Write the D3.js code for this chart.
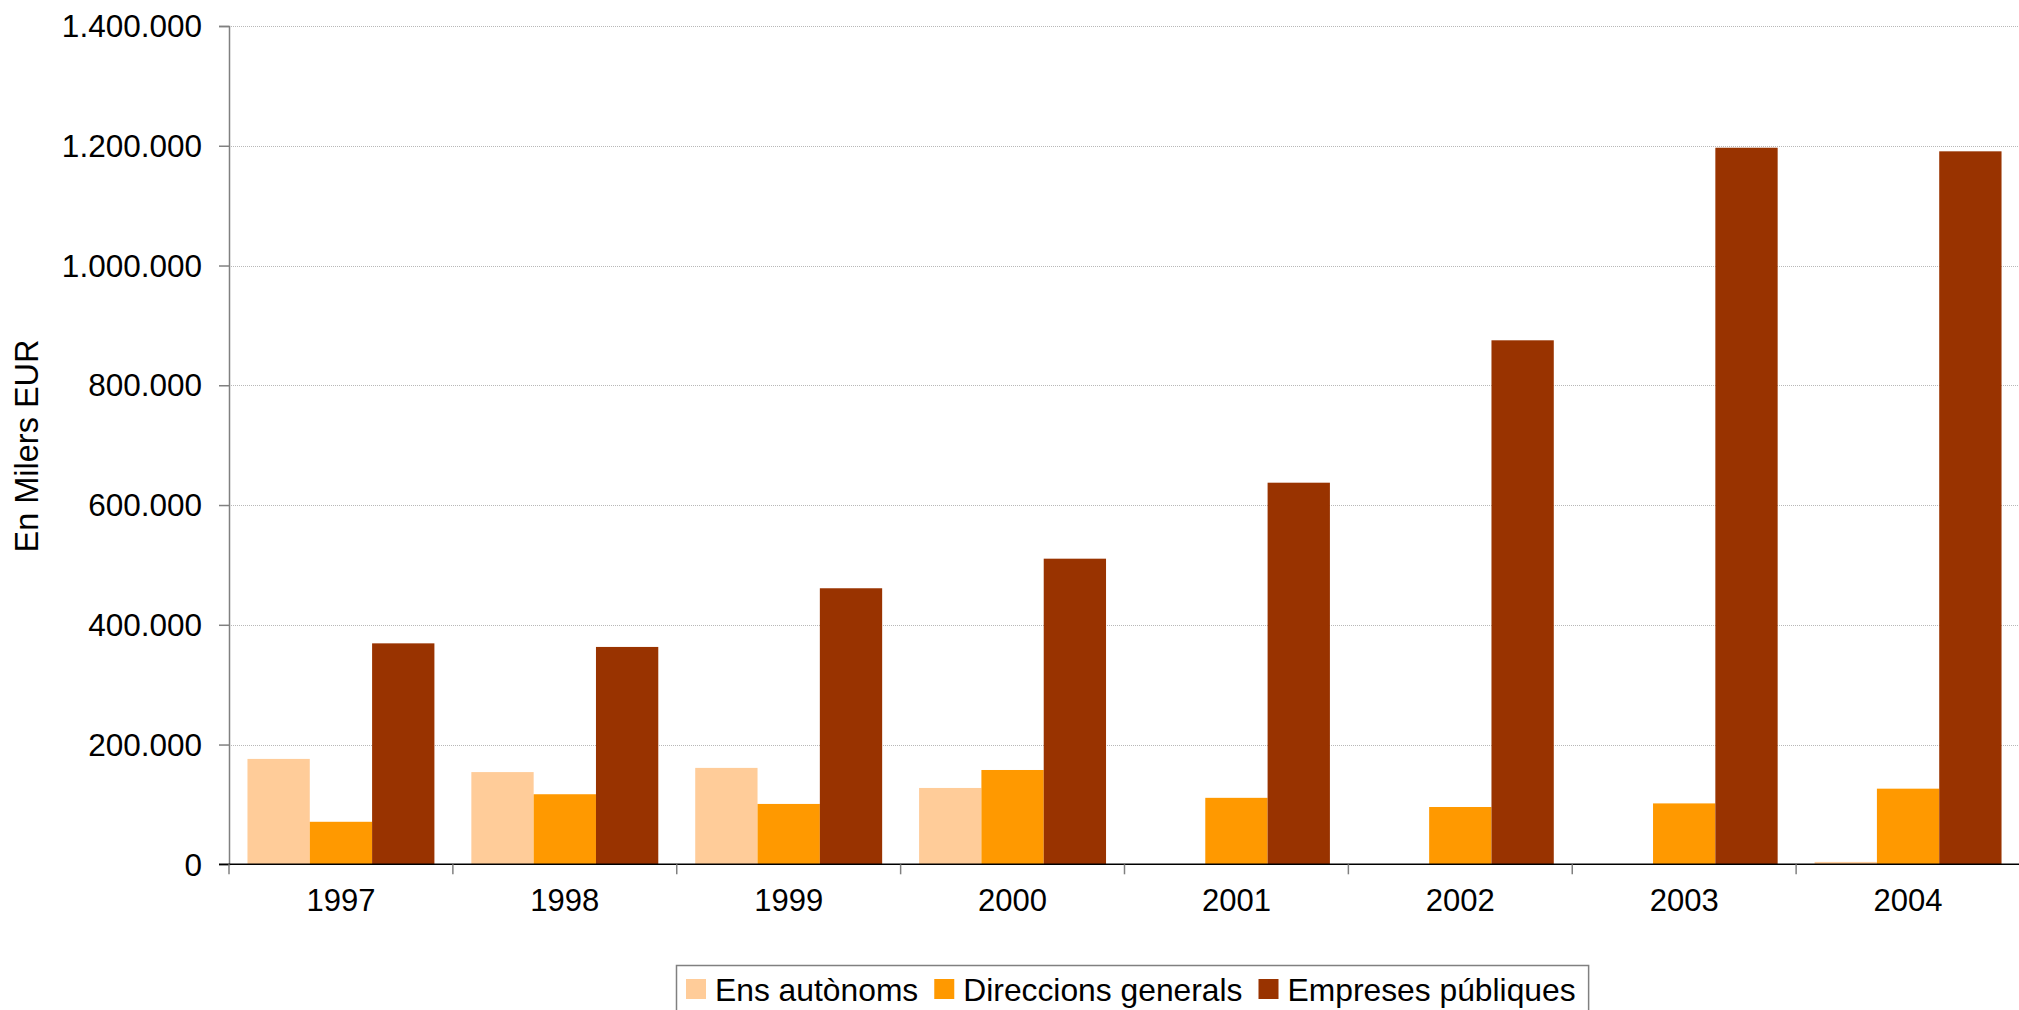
<!DOCTYPE html>
<html>
<head>
<meta charset="utf-8">
<script src="https://cdn.jsdelivr.net/npm/d3@7"></script>
<style>
  html, body { margin: 0; padding: 0; background: #fff; }
  svg { display: block; }
  text { font-family: "Liberation Sans", Arial, sans-serif; fill: #000; }
</style>
</head>
<body>
<script>
const years = ["1997", "1998", "1999", "2000", "2001", "2002", "2003", "2004"];
const seriesNames = ["Ens autònoms", "Direccions generals", "Empreses públiques"];
const ensAutonoms = [176000, 154000, 161000, 127500, 0, 0, 0, 4000];
const direccionsGenerals = [71000, 117000, 100800, 157500, 111000, 95700, 101700, 126300];
const empresesPubliques = [369000, 363000, 461000, 510400, 637300, 875100, 1196700, 1190700];
const yTicks = [0, 200000, 400000, 600000, 800000, 1000000, 1200000, 1400000];
const colors = ["#FFCC99", "#FF9900", "#993300"];
const yTitle = "En Milers EUR";

const W = 2019, H = 1010;
const plot = { left: 229, right: 2020, top: 26, bottom: 864.3 };

const svg = d3.select("body").append("svg").attr("width", W).attr("height", H);

const locale = d3.formatLocale({ decimal: ",", thousands: ".", grouping: [3], currency: ["", "€"] });
const fmt = locale.format(",d");

const y = d3.scaleLinear().domain([0, 1400000]).range([plot.bottom, plot.top]);
const x0 = d3.scaleBand().domain(years).range([plot.left, plot.right])
  .paddingInner(0.165).paddingOuter(0.0825);
const x1 = d3.scaleBand().domain(seriesNames).range([0, x0.bandwidth()]).padding(0);

// gridlines
svg.append("g").selectAll("line").data(yTicks.filter(d => d > 0)).join("line")
  .attr("x1", plot.left).attr("x2", plot.right)
  .attr("y1", d => Math.round(y(d)) + 0.5).attr("y2", d => Math.round(y(d)) + 0.5)
  .attr("stroke", "#b8b8b8").attr("stroke-width", 1).attr("stroke-dasharray", "1,1");

// bars
const data = years.map((yr, i) => ({ year: yr, values: [ensAutonoms[i], direccionsGenerals[i], empresesPubliques[i]] }));
const groups = svg.append("g").selectAll("g").data(data).join("g")
  .attr("transform", d => `translate(${x0(d.year)},0)`);
groups.selectAll("rect").data(d => d.values.map((v, j) => ({ name: seriesNames[j], value: v, j })))
  .join("rect")
  .attr("x", d => x1(d.name))
  .attr("width", x1.bandwidth())
  .attr("y", d => y(d.value))
  .attr("height", d => y(0) - y(d.value))
  .attr("fill", d => colors[d.j]);

// y axis
const yAxis = d3.axisLeft(y).tickValues(yTicks).tickFormat(fmt).tickSize(10).tickPadding(17);
const gy = svg.append("g").attr("transform", `translate(${plot.left},0)`).call(yAxis);
gy.select(".domain").attr("stroke", "#808080").attr("stroke-width", 1.5);
gy.selectAll(".tick line").attr("stroke", "#808080").attr("stroke-width", 1.5);
gy.selectAll(".tick text").attr("font-size", 31.5).attr("font-family", "Liberation Sans, Arial, sans-serif").attr("fill", "#000").attr("dy", "0.34em");

// x axis (labels at centres)
const xAxis = d3.axisBottom(x0).tickSize(0).tickPadding(25);
const gx = svg.append("g").attr("transform", `translate(0,${plot.bottom})`).call(xAxis);
gx.select(".domain").remove();
gx.selectAll(".tick text").attr("font-size", 31).attr("font-family", "Liberation Sans, Arial, sans-serif").attr("fill", "#000").attr("dy", "0.71em");

// x axis line and boundary ticks
svg.append("line").attr("x1", plot.left - 10).attr("x2", plot.right)
  .attr("y1", plot.bottom).attr("y2", plot.bottom).attr("stroke", "#000").attr("stroke-width", 1.5);
const boundaries = d3.range(years.length + 1).map(i => x0.range()[0] + i * x0.step());
svg.append("g").selectAll("line").data(boundaries).join("line")
  .attr("x1", d => d).attr("x2", d => d)
  .attr("y1", plot.bottom).attr("y2", plot.bottom + 10)
  .attr("stroke", "#808080").attr("stroke-width", 1.5);

// y title
svg.append("text")
  .attr("transform", `translate(38,446) rotate(-90)`)
  .attr("text-anchor", "middle")
  .attr("font-size", 32.5)
  .text(yTitle);

// legend
const legend = svg.append("g");
const box = legend.append("rect").attr("x", 676.5).attr("y", 965.5).attr("height", 60)
  .attr("fill", "#fff").attr("stroke", "#808080").attr("stroke-width", 1.5);
let lx = 686;
seriesNames.forEach((name, i) => {
  legend.append("rect").attr("x", lx).attr("y", 979).attr("width", 20).attr("height", 20).attr("fill", colors[i]);
  const t = legend.append("text").attr("x", lx + 29).attr("y", 1001).attr("font-size", 31.8).text(name);
  lx = lx + 29 + t.node().getComputedTextLength() + 16;
});
box.attr("width", lx - 676.5 - 16 + 13);
</script>
</body>
</html>
